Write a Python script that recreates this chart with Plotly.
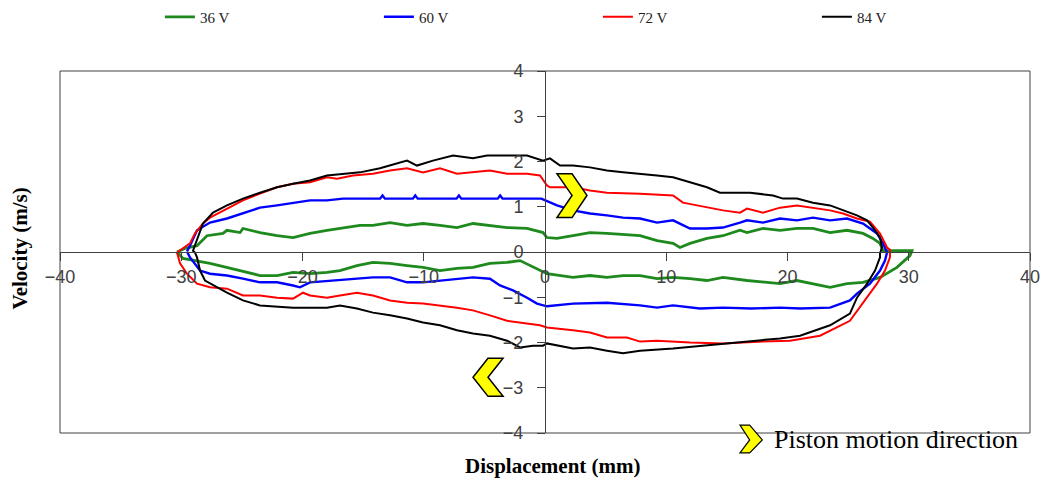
import plotly.graph_objects as go

series_names = ["36 V", "60 V", "72 V", "84 V"]
series_colors = ["#1e8a1e", "#0000ff", "#ff0000", "#000000"]
series_widths = [2.8, 2.4, 2.0, 2.0]

x_ticks = [-40, -30, -20, -10, 0, 10, 20, 30, 40]
y_ticks = [-4, -3, -2, -1, 0, 1, 2, 3, 4]

# 36 V loop (displacement mm, velocity m/s)
disp_36 = [-30.35, -29.70, -28.70, -27.88, -26.56, -26.23, -25.15, -24.91, -23.51, -22.10,
           -20.78, -19.38, -17.98, -16.66, -15.26, -14.19, -12.78, -11.38, -10.06, -8.66,
           -7.26, -5.94, -4.54, -3.13, -1.48, -0.16, 0.16, 0.99, 2.31, 3.71,
           5.11, 7.84, 9.24, 10.56, 11.13, 11.96, 13.36, 14.68, 16.08, 16.66,
           17.98, 19.38, 20.78, 22.10, 23.51, 24.91, 26.23, 27.05, 27.63, 27.88,
           30.27, 30.10, 29.03, 27.63, 26.23, 24.91, 23.51, 22.10, 20.78, 19.38,
           17.98, 16.66, 14.68, 13.36, 11.96, 10.56, 9.24, 7.84, 6.43, 5.11,
           3.71, 2.31, 0.16, -0.41, -1.24, -2.06, -3.13, -4.54, -5.94, -7.26,
           -8.66, -10.06, -11.38, -12.78, -14.19, -15.51, -16.91, -17.98, -19.38, -20.78,
           -22.10, -23.51, -25.15, -26.23, -27.63, -29.86, -30.35]
vel_36 = [0.00, 0.08, 0.14, 0.36, 0.41, 0.48, 0.43, 0.52, 0.43, 0.36,
          0.32, 0.41, 0.48, 0.54, 0.59, 0.59, 0.65, 0.59, 0.63, 0.59,
          0.54, 0.63, 0.59, 0.54, 0.52, 0.43, 0.32, 0.30, 0.36, 0.43,
          0.41, 0.36, 0.25, 0.19, 0.10, 0.19, 0.30, 0.36, 0.48, 0.43,
          0.52, 0.48, 0.52, 0.52, 0.43, 0.48, 0.41, 0.30, 0.19, 0.03,
          0.03, -0.08, -0.34, -0.56, -0.67, -0.70, -0.78, -0.70, -0.63, -0.70,
          -0.67, -0.63, -0.56, -0.63, -0.59, -0.56, -0.59, -0.52, -0.52, -0.56,
          -0.52, -0.56, -0.48, -0.41, -0.30, -0.19, -0.23, -0.25, -0.34, -0.36,
          -0.41, -0.34, -0.30, -0.25, -0.23, -0.30, -0.41, -0.45, -0.48, -0.45,
          -0.52, -0.52, -0.41, -0.34, -0.25, -0.14, 0.00]

# 60 V loop
disp_60 = [-29.53, -29.28, -28.70, -27.63, -26.23, -24.91, -23.51, -22.10, -20.78, -19.38,
           -17.98, -16.66, -13.60, -13.40, -13.20, -10.90, -10.70, -10.50, -7.30, -7.10,
           -6.90, -3.90, -3.70, -3.50, -0.30, 0.16, 0.66, 0.99, 2.31, 3.71,
           5.11, 6.43, 7.84, 9.24, 10.56, 11.96, 13.36, 14.68, 16.08, 16.66,
           17.98, 19.38, 20.78, 22.10, 23.51, 24.91, 26.23, 27.38, 27.88, 28.21,
           28.04, 27.63, 26.80, 25.73, 25.15, 23.51, 21.03, 19.38, 17.00, 14.68,
           12.78, 10.56, 9.24, 7.84, 5.11, 2.31, 0.16, -0.66, -1.48, -2.64,
           -3.71, -4.54, -5.94, -7.26, -8.66, -10.06, -11.38, -12.78, -14.19, -15.51,
           -16.91, -17.98, -19.38, -20.21, -20.78, -22.10, -23.51, -24.91, -26.23, -27.63,
           -28.45, -29.28, -29.53]
vel_60 = [0.01, 0.14, 0.48, 0.65, 0.74, 0.85, 0.98, 1.03, 1.09, 1.14,
          1.14, 1.18, 1.18, 1.25, 1.18, 1.18, 1.25, 1.18, 1.18, 1.25,
          1.18, 1.18, 1.25, 1.18, 1.18, 1.12, 1.07, 1.03, 0.92, 0.85,
          0.81, 0.76, 0.74, 0.65, 0.70, 0.52, 0.52, 0.54, 0.65, 0.70,
          0.65, 0.74, 0.70, 0.76, 0.70, 0.74, 0.63, 0.41, 0.19, -0.01,
          -0.19, -0.41, -0.70, -0.92, -1.07, -1.23, -1.25, -1.23, -1.25, -1.23,
          -1.25, -1.18, -1.23, -1.18, -1.12, -1.14, -1.20, -1.14, -1.01, -0.85,
          -0.74, -0.59, -0.56, -0.59, -0.63, -0.67, -0.67, -0.56, -0.56, -0.59,
          -0.61, -0.63, -0.67, -0.78, -0.74, -0.67, -0.67, -0.59, -0.52, -0.48,
          -0.41, -0.12, 0.01]

# 72 V loop
disp_72 = [-30.35, -29.28, -28.87, -28.21, -27.63, -26.23, -24.91, -23.51, -22.10, -20.78,
           -19.38, -17.98, -17.15, -15.84, -14.19, -12.78, -11.38, -10.06, -8.66, -7.26,
           -5.94, -4.54, -3.13, -1.48, -0.41, 0.16, 0.41, 2.31, 3.71, 5.11,
           7.84, 10.56, 11.38, 13.36, 14.68, 16.08, 16.66, 17.98, 19.38, 20.78,
           22.10, 23.51, 24.58, 25.73, 26.80, 27.63, 28.21, 28.45, 28.45, 28.04,
           27.38, 26.56, 25.15, 22.68, 20.21, 17.98, 14.68, 11.96, 9.24, 7.84,
           6.76, 5.11, 3.71, 2.31, 0.16, -0.41, -1.81, -3.13, -4.54, -5.94,
           -7.26, -8.66, -10.06, -11.38, -12.78, -14.19, -15.51, -16.91, -17.98, -19.38,
           -19.96, -20.78, -22.10, -23.51, -24.91, -26.23, -27.63, -28.70, -29.53, -30.10,
           -30.35]
vel_72 = [-0.01, 0.19, 0.41, 0.63, 0.76, 0.96, 1.14, 1.29, 1.43, 1.51,
          1.54, 1.65, 1.62, 1.69, 1.73, 1.80, 1.85, 1.76, 1.85, 1.73,
          1.76, 1.80, 1.73, 1.73, 1.69, 1.47, 1.43, 1.43, 1.36, 1.31,
          1.29, 1.25, 1.09, 0.98, 0.92, 0.87, 0.96, 0.87, 0.98, 1.03,
          0.98, 0.92, 0.85, 0.74, 0.67, 0.41, 0.10, 0.05, -0.12, -0.41,
          -0.70, -1.01, -1.52, -1.85, -1.96, -1.98, -2.02, -2.00, -1.96, -1.98,
          -1.89, -1.89, -1.78, -1.73, -1.67, -1.62, -1.56, -1.52, -1.40, -1.29,
          -1.23, -1.18, -1.14, -1.12, -1.07, -0.96, -0.90, -0.96, -1.01, -0.96,
          -0.90, -1.03, -1.01, -0.96, -0.96, -0.81, -0.78, -0.70, -0.48, -0.25,
          -0.01]

# 84 V loop
disp_84 = [-28.87, -29.03, -28.21, -27.38, -26.23, -24.91, -23.51, -22.10, -20.78, -19.38,
           -17.98, -16.66, -15.26, -13.61, -11.38, -10.56, -9.24, -7.59, -5.94, -4.78,
           -3.13, -1.48, -0.16, 0.41, 1.24, 2.31, 3.71, 5.11, 6.43, 7.84,
           9.24, 10.56, 11.96, 13.36, 14.43, 16.08, 16.91, 18.80, 19.63, 20.78,
           22.10, 23.51, 24.58, 25.73, 26.56, 27.05, 27.63, 27.79, 27.63, 27.63,
           27.22, 26.56, 25.73, 25.15, 23.51, 21.03, 19.38, 17.50, 15.26, 12.78,
           10.56, 7.84, 6.43, 5.11, 3.71, 2.31, 0.16, -0.16, -0.99, -2.06,
           -3.13, -4.54, -5.94, -7.26, -8.66, -10.06, -11.38, -12.78, -14.19, -15.51,
           -16.91, -17.98, -20.78, -23.51, -24.91, -26.23, -27.05, -28.04, -28.45, -28.70,
           -28.87]
vel_84 = [-0.01, 0.03, 0.63, 0.87, 1.03, 1.18, 1.31, 1.43, 1.51, 1.58,
          1.69, 1.73, 1.76, 1.85, 2.02, 1.91, 2.02, 2.13, 2.07, 2.13,
          2.13, 2.13, 2.02, 2.07, 1.91, 1.91, 1.87, 1.80, 1.76, 1.73,
          1.69, 1.65, 1.54, 1.43, 1.31, 1.31, 1.31, 1.25, 1.18, 1.18,
          1.09, 1.03, 0.92, 0.81, 0.70, 0.54, 0.32, 0.10, -0.03, -0.12,
          -0.41, -0.70, -1.01, -1.36, -1.62, -1.85, -1.91, -1.96, -2.02, -2.07,
          -2.13, -2.18, -2.24, -2.18, -2.11, -2.13, -2.02, -2.07, -2.07, -2.11,
          -1.96, -1.85, -1.80, -1.73, -1.62, -1.56, -1.47, -1.40, -1.34, -1.25,
          -1.18, -1.23, -1.23, -1.18, -1.07, -0.90, -0.78, -0.63, -0.41, -0.12,
          -0.01]

all_disp = [disp_36, disp_60, disp_72, disp_84]
all_vel = [vel_36, vel_60, vel_72, vel_84]
for d, v in zip(all_disp, all_vel):
    assert len(d) == len(v), (len(d), len(v))

AXIS_COLOR = "#404040"
SERIF = "Liberation Serif, Times New Roman, serif"
SANS = "Liberation Sans, Arial, sans-serif"

fig = go.Figure()
for name, color, w, d, v in zip(series_names, series_colors, series_widths, all_disp, all_vel):
    fig.add_trace(go.Scatter(x=d, y=v, mode="lines", name=name,
                             line=dict(color=color, width=w)))

axis_common = dict(showgrid=False, zeroline=False, showline=True, linecolor=AXIS_COLOR,
                   linewidth=1, ticks="outside", ticklen=8, tickcolor=AXIS_COLOR,
                   tickfont=dict(family=SANS, size=18, color=AXIS_COLOR),
                   anchor="free", position=0.5, automargin=False)

fig.update_xaxes(range=[-40, 40], tickvals=x_ticks, **axis_common)
fig.update_yaxes(range=[-4, 4], tickvals=y_ticks, ticklabelstandoff=10, **axis_common)

# chevron markers (piston motion direction)
chev_up = "M 0.99 1.73 L 2.23 1.73 L 3.46 1.25 L 2.23 0.76 L 0.99 0.76 L 2.23 1.25 Z"
chev_down = "M -3.46 -2.35 L -4.70 -2.35 L -5.94 -2.77 L -4.70 -3.19 L -3.46 -3.19 L -4.70 -2.77 Z"
chev_leg = "M 0.701 0.022 L 0.711 0.022 L 0.724 -0.019 L 0.711 -0.055 L 0.701 -0.055 L 0.711 -0.019 Z"

shapes = [
    dict(type="rect", xref="paper", yref="paper", x0=0, y0=0, x1=1, y1=1,
         line=dict(color=AXIS_COLOR, width=1), layer="below"),
    dict(type="path", xref="x", yref="y", path=chev_up, fillcolor="#ffff00",
         line=dict(color="#000000", width=1.5)),
    dict(type="path", xref="x", yref="y", path=chev_down, fillcolor="#ffff00",
         line=dict(color="#000000", width=1.5)),
    dict(type="path", xref="paper", yref="paper", path=chev_leg, fillcolor="#ffff00",
         line=dict(color="#000000", width=1.2)),
]

annotations = [
    dict(text="<b>Velocity (m/s)</b>", xref="paper", yref="paper", x=-0.041, y=0.51,
         xanchor="center", yanchor="middle",
         textangle=-90, showarrow=False, font=dict(family=SERIF, size=21, color="#000")),
    dict(text="<b>Displacement (mm)</b>", xref="paper", yref="paper", x=0.508, y=-0.091,
         xanchor="center", yanchor="middle",
         showarrow=False, font=dict(family=SERIF, size=21, color="#000")),
    dict(text="Piston motion direction", xref="paper", yref="paper", x=0.734, y=-0.019,
         xanchor="left", yanchor="middle", showarrow=False,
         font=dict(family=SERIF, size=26, color="#000")),
]

fig.update_layout(
    width=1045, height=480,
    margin=dict(l=60, r=15, t=71, b=47, autoexpand=False),
    plot_bgcolor="white", paper_bgcolor="white",
    shapes=shapes, annotations=annotations,
    legend=dict(orientation="h", x=0.103, y=1.149, xanchor="left", yanchor="middle",
                entrywidth=174, entrywidthmode="pixels",
                font=dict(family=SERIF, size=15, color="#222")),
)

fig.write_html(
    "out.html",
    config={"displayModeBar": False},
    post_script="document.body.style.margin='0px';"
                "document.documentElement.style.overflow='hidden';",
)
